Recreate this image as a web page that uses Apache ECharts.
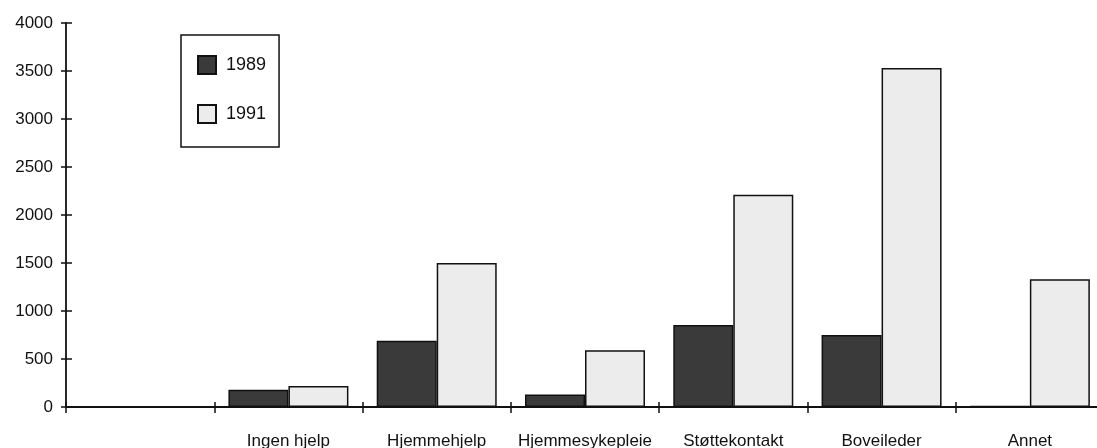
<!DOCTYPE html>
<html>
<head>
<meta charset="utf-8">
<script src="https://cdn.jsdelivr.net/npm/echarts@6/dist/echarts.min.js"></script>
<style>
  html, body { margin: 0; padding: 0; background: #ffffff; }
  #chart { width: 1097px; height: 448px; }
</style>
</head>
<body>
<div id="chart"></div>
<script>
// Categories along the x axis (the first slot is left empty)
const categories = ['', 'Ingen hjelp', 'Hjemmehjelp', 'Hjemmesykepleie', 'Støttekontakt', 'Boveileder', 'Annet'];
// Series values
const values1989 = [null, 180, 690, 130, 855, 750, 10];
const values1991 = [null, 220, 1500, 590, 2210, 3530, 1330];
const seriesNames = ['1989', '1991'];
// Value axis range
const yMin = 0;
const yMax = 4000;
const yStep = 500;

const FONT = '"Liberation Sans", Arial, Helvetica, sans-serif';
const INK = '#111111';

const chart = echarts.init(document.getElementById('chart'), null, { renderer: 'canvas' });

// plot area runs a little past the right edge of the page
const gridBox = {
  left: 66, top: 23, width: 1038, height: 384,
  containLabel: false,
  outerBoundsMode: 'none'
};

chart.setOption({
  animation: false,
  backgroundColor: '#ffffff',
  grid: gridBox,
  legend: {
    left: 181,
    top: 35,
    orient: 'vertical',
    data: seriesNames,
    icon: 'rect',
    itemWidth: 18,
    itemHeight: 18,
    itemGap: 29,
    padding: [20, 13, 23, 16],
    borderColor: INK,
    borderWidth: 1.5,
    backgroundColor: '#ffffff',
    selectedMode: false,
    textStyle: { fontFamily: FONT, fontSize: 18, color: INK, padding: [0, 0, 0, 5] }
  },
  xAxis: [
    {
      type: 'category',
      data: categories,
      boundaryGap: true,
      offset: 0,
      axisLine: { show: true, lineStyle: { color: INK, width: 1.8 } },
      axisTick: { show: false },
      axisLabel: { fontFamily: FONT, fontSize: 17, color: INK, margin: 26, interval: 0 },
      splitLine: { show: false }
    },
    {
      // tick marks that cross the axis line
      type: 'category',
      data: categories,
      position: 'bottom',
      boundaryGap: true,
      offset: -5,
      axisLine: { show: false },
      axisTick: { show: true, length: 11, lineStyle: { color: INK, width: 1.5 } },
      axisLabel: { show: false },
      splitLine: { show: false }
    }
  ],
  yAxis: [
    {
      type: 'value',
      min: yMin,
      max: yMax,
      interval: yStep,
      offset: 0,
      axisLine: { show: true, lineStyle: { color: INK, width: 1.8 } },
      axisTick: { show: false },
      axisLabel: {
        fontFamily: FONT, fontSize: 17, color: INK, margin: 13,
        formatter: (v) => String(v)
      },
      splitLine: { show: false }
    },
    {
      // tick marks that cross the axis line
      type: 'value',
      min: yMin,
      max: yMax,
      interval: yStep,
      position: 'left',
      offset: -6,
      axisLine: { show: false },
      axisTick: { show: true, length: 11, lineStyle: { color: INK, width: 1.5 } },
      axisLabel: { show: false },
      splitLine: { show: false }
    }
  ],
  series: [
    {
      name: seriesNames[0],
      type: 'bar',
      data: values1989,
      barWidth: 60,
      barGap: '0%',
      itemStyle: { color: '#3a3a3a', borderColor: INK, borderWidth: 1.5 }
    },
    {
      name: seriesNames[1],
      type: 'bar',
      data: values1991,
      barWidth: 60,
      barGap: '0%',
      itemStyle: { color: '#ececec', borderColor: INK, borderWidth: 1.5 }
    }
  ]
});
</script>
</body>
</html>
